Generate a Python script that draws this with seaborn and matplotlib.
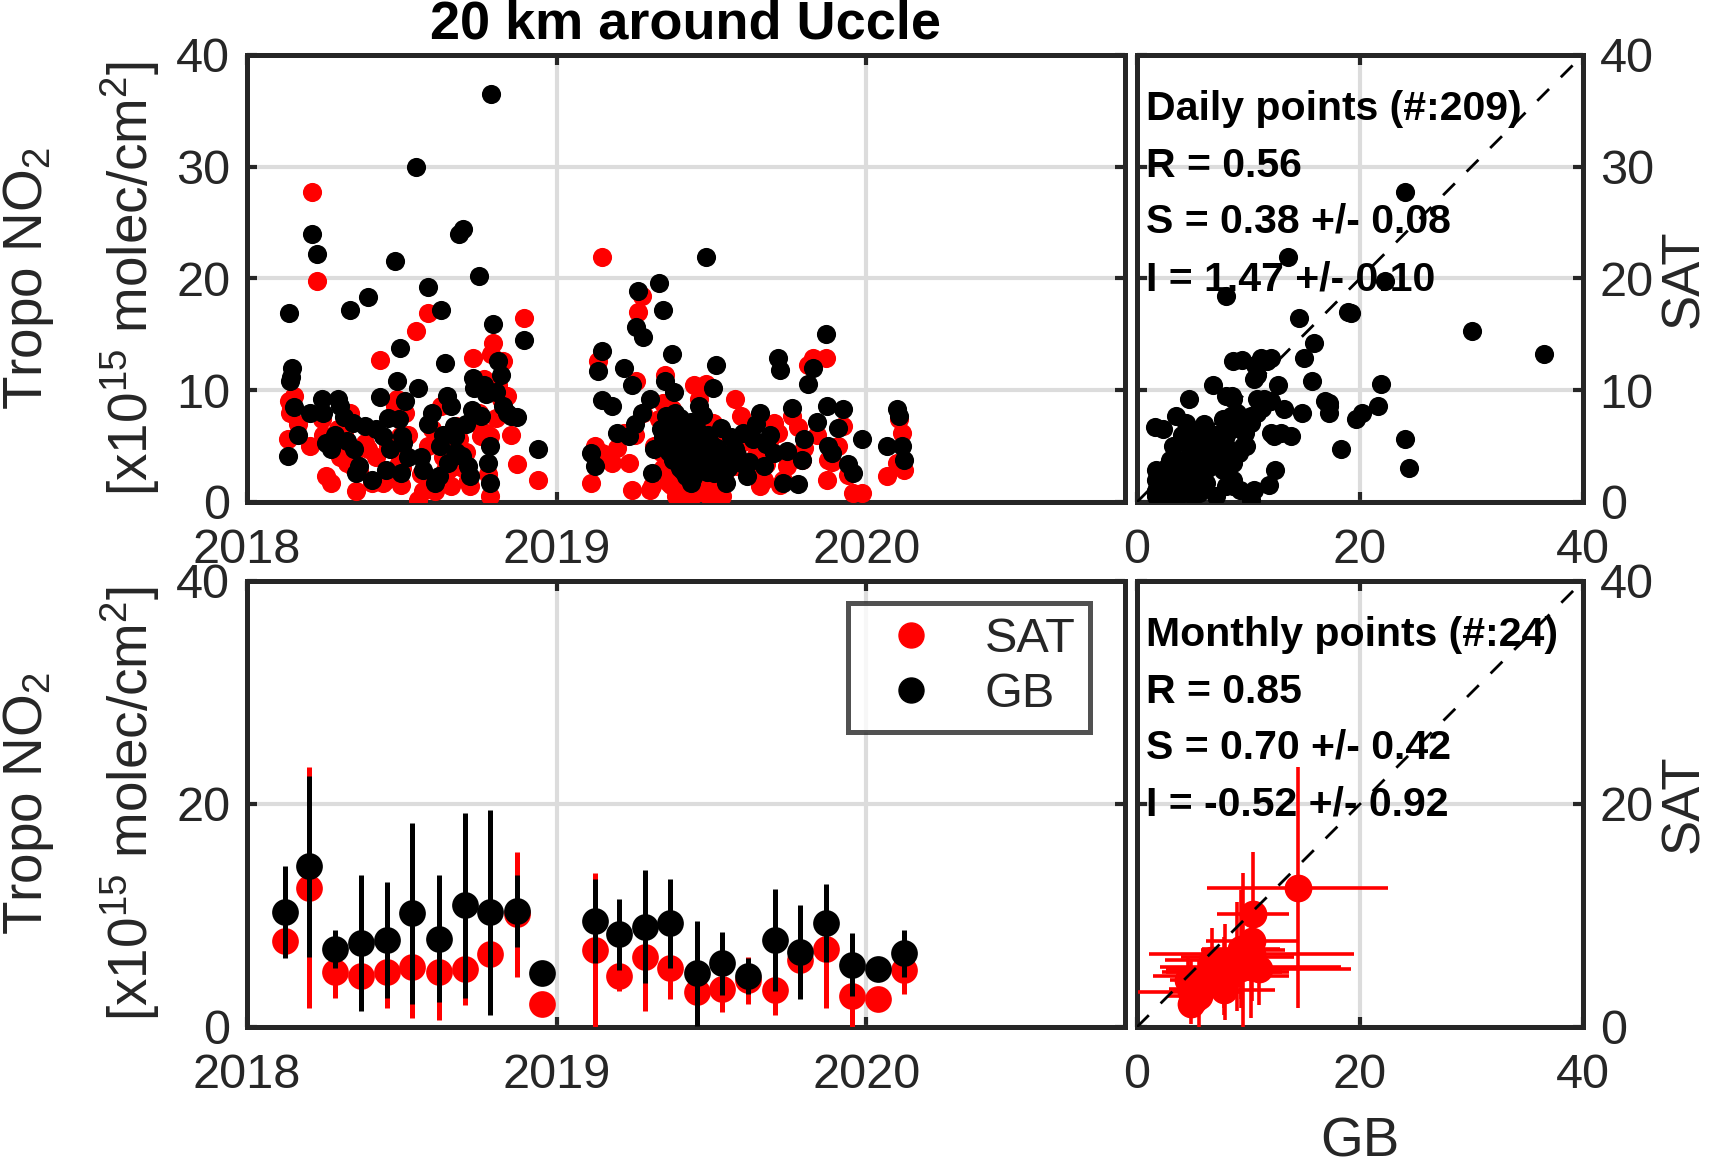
import numpy as np
import pandas as pd
import matplotlib
matplotlib.use('Agg')
import matplotlib.pyplot as plt
import matplotlib.dates as mdates
from matplotlib.lines import Line2D
import seaborn as sns

# Daily co-located NO2 columns [x1e15 molec/cm2], day number counted from 2018-01-01
day_num = [48, 50, 51, 52, 53, 56, 60, 74, 77, 83, 88, 90, 93, 99, 104, 107, 110, 115, 118, 122,
           125, 126, 128, 132, 139, 143, 147, 152, 157, 160, 164, 166, 169, 174, 177, 179, 181, 182, 183, 184,
           186, 190, 199, 202, 205, 208, 213, 214, 218, 222, 226, 228, 229, 231, 233, 236, 237, 240, 244, 245,
           247, 250, 254, 255, 258, 261, 263, 265, 267, 268, 273, 276, 279, 282, 284, 286, 287, 288, 290, 293,
           296, 300, 302, 306, 311, 318, 327, 343,
           405, 410, 414, 418, 419, 430, 436, 445, 450, 454, 458, 459, 461, 466, 467, 475, 477, 480, 486, 488,
           490, 491, 493, 494, 495, 497, 498, 500, 501, 502, 503, 504, 505, 506, 507, 508, 509, 510, 511, 512,
           513, 514, 515, 516, 517, 518, 519, 520, 521, 522, 523, 524, 525, 526, 527, 528, 530, 531, 532, 533,
           534, 535, 536, 538, 539, 541, 542, 543, 545, 546, 547, 549, 551, 553, 554, 556, 557, 559, 560, 562,
           565, 567, 571, 575, 578, 582, 585, 589, 592, 597, 600, 605, 609, 612, 617, 621, 626, 628, 632, 637,
           643, 650, 654, 657, 661, 667, 672, 682, 684, 685, 690, 697, 703, 709, 714, 725, 755, 766, 769, 772,
           774]
sat_daily = [5.6, 9.0, 8.0, 8.4, 9.0, 9.5, 7.0, 5.0, 27.7, 19.8, 7.4, 6.0, 2.3, 1.7, 5.5, 6.5, 4.0, 6.0, 3.5, 8.0,
             4.1, 3.0, 1.0, 2.8, 5.3, 4.7, 1.7, 4.0, 12.7, 1.7, 2.0, 5.0, 2.3, 8.6, 9.2, 3.5, 5.9, 1.5, 3.0, 4.5,
             8.0, 6.0, 15.3, 0.2, 2.5, 1.0, 5.0, 16.9, 6.5, 1.0, 2.0, 5.9, 8.6, 4.0, 2.9, 5.0, 2.9, 1.4, 5.6, 3.2,
             6.8, 5.6, 3.2, 3.0, 4.5, 2.0, 1.4, 7.2, 12.9, 7.7, 8.0, 5.9, 11.0, 6.2, 2.5, 0.5, 5.9, 13.2, 14.2, 7.5,
             10.5, 9.2, 12.6, 9.5, 6.0, 3.4, 16.5, 2.0,
             1.7, 5.0, 12.6, 21.9, 4.4, 3.5, 4.8, 6.2, 3.5, 1.1, 6.0, 10.8, 17.0, 18.4, 8.0, 1.1, 1.4, 5.0, 7.4, 4.5,
             8.9, 3.0, 11.4, 2.9, 4.2, 1.7, 2.0, 1.5, 8.3, 2.2, 5.0, 6.0, 3.8, 0.5, 1.0, 5.5, 0.8, 0.8, 4.0, 2.8,
             0.2, 0.5, 3.2, 1.2, 4.8, 2.6, 2.4, 1.8, 0.9, 2.6, 5.2, 1.0, 3.4, 0.6, 10.5, 4.2, 1.6, 3.0, 2.2, 9.2,
             1.3, 5.6, 0.9, 6.2, 2.9, 10.6, 1.9, 3.6, 0.5, 2.4, 1.6, 7.1, 3.0, 5.9, 4.4, 1.1, 1.4, 5.0, 0.5, 2.0,
             2.9, 3.8, 4.6, 9.2, 3.2, 7.7, 5.4, 6.5, 2.6, 3.5, 4.2, 1.4, 2.0, 3.4, 5.6, 7.1, 6.2, 1.5, 2.0, 3.2,
             7.7, 6.7, 3.8, 4.8, 12.3, 12.9, 6.0, 12.9, 2.0, 3.8, 3.6, 5.0, 6.8, 2.4, 0.8, 0.8, 2.3, 3.5, 7.4, 6.2,
             2.9]
gb_daily = [4.1, 16.9, 10.8, 11.2, 12.0, 8.5, 6.0, 8.0, 24.0, 22.2, 9.2, 8.0, 5.3, 4.7, 6.0, 9.2, 8.6, 7.6, 5.5, 17.2,
            7.1, 4.7, 2.6, 3.2, 6.8, 18.3, 2.0, 6.5, 9.4, 5.9, 2.9, 7.5, 4.7, 21.6, 10.8, 7.4, 13.8, 2.6, 5.9, 5.3,
            9.0, 4.0, 30.0, 10.2, 4.0, 2.9, 7.0, 19.2, 8.0, 1.7, 2.3, 5.0, 17.2, 6.0, 12.4, 9.5, 3.5, 8.6, 6.8, 5.9,
            4.5, 24.0, 4.1, 24.4, 7.0, 3.2, 2.3, 8.2, 11.1, 10.2, 20.2, 7.7, 10.5, 9.7, 3.5, 1.7, 5.0, 36.5, 15.9, 9.8,
            12.6, 11.4, 8.6, 8.0, 7.7, 7.6, 14.5, 4.7,
            4.4, 3.2, 11.7, 13.5, 9.1, 8.6, 6.2, 12.0, 5.9, 10.5, 7.0, 15.7, 18.9, 8.0, 14.8, 9.2, 2.6, 4.7, 19.6, 6.5,
            17.2, 5.8, 10.8, 7.7, 7.0, 6.2, 4.5, 6.0, 13.2, 3.8, 9.8, 8.0, 5.5, 7.1, 4.2, 6.8, 5.3, 3.0, 7.5, 4.8,
            3.5, 2.8, 5.2, 3.6, 6.2, 2.3, 4.0, 2.5, 5.0, 3.3, 7.2, 1.7, 4.4, 2.2, 6.8, 5.6, 3.0, 6.4, 4.6, 8.6,
            2.9, 5.4, 3.4, 7.8, 4.1, 21.9, 2.7, 6.0, 5.0, 3.9, 5.2, 10.2, 2.6, 12.3, 4.8, 3.5, 3.1, 6.6, 2.6, 4.3,
            1.7, 3.0, 5.8, 4.7, 4.2, 3.5, 6.2, 2.3, 3.6, 5.6, 7.0, 8.0, 3.2, 5.2, 6.0, 4.4, 12.9, 11.8, 1.7, 4.6,
            8.4, 1.6, 3.8, 5.6, 10.6, 12.0, 7.2, 15.0, 8.6, 5.0, 4.4, 6.6, 8.3, 3.4, 2.6, 5.6, 5.0, 8.3, 7.7, 5.0,
            3.8]

# Monthly means and standard deviations
months = ['2018-02', '2018-03', '2018-04', '2018-05', '2018-06', '2018-07', '2018-08', '2018-09',
          '2018-10', '2018-11', '2018-12', '2019-02', '2019-03', '2019-04', '2019-05', '2019-06',
          '2019-07', '2019-08', '2019-09', '2019-10', '2019-11', '2019-12', '2020-01', '2020-02']
sat_month = [7.7, 12.5, 4.9, 4.6, 4.9, 5.4, 4.9, 5.2, 6.5, 10.1, 2.1, 6.9,
             4.6, 6.3, 5.3, 3.1, 3.4, 4.2, 3.3, 6.0, 7.0, 2.8, 2.5, 5.1]
sat_month_std = [0.8, 10.8, 2.3, 1.7, 3.2, 4.6, 4.3, 3.2, 4.2, 5.6, 0.0, 6.9,
                 1.4, 4.9, 2.8, 2.8, 2.1, 2.1, 2.2, 2.9, 5.3, 3.3, 0.0, 2.1]
gb_month = [10.3, 14.4, 7.0, 7.5, 7.8, 10.2, 7.9, 10.9, 10.3, 10.4, 4.8, 9.5,
            8.3, 9.0, 9.3, 4.8, 5.7, 4.6, 7.8, 6.7, 9.3, 5.6, 5.2, 6.6]
gb_month_std = [4.1, 8.1, 1.7, 6.1, 5.2, 8.1, 5.7, 8.3, 9.2, 3.2, 0.0, 3.8,
                3.2, 5.1, 4.0, 4.7, 2.8, 1.6, 4.6, 4.2, 3.5, 2.8, 0.0, 2.1]

daily_stats = ['Daily points (#:209)', 'R = 0.56', 'S = 0.38 +/- 0.08', 'I = 1.47 +/- 0.10']
monthly_stats = ['Monthly points (#:24)', 'R = 0.85', 'S = 0.70 +/- 0.42', 'I = -0.52 +/- 0.92']

daily = pd.DataFrame({'date': pd.Timestamp('2018-01-01') + pd.to_timedelta(day_num, unit='D'),
                      'sat': sat_daily, 'gb': gb_daily})
monthly = pd.DataFrame({'date': pd.to_datetime(months) + pd.Timedelta(days=14),
                        'sat': sat_month, 'sat_std': sat_month_std,
                        'gb': gb_month, 'gb_std': gb_month_std})

sns.set_theme(style='ticks')
plt.rcParams['font.family'] = ['Liberation Sans', 'DejaVu Sans']
plt.rcParams['mathtext.fontset'] = 'custom'
plt.rcParams['mathtext.rm'] = 'Liberation Sans'
plt.rcParams['mathtext.it'] = 'Liberation Sans:italic'
plt.rcParams['mathtext.bf'] = 'Liberation Sans:bold'

EDGE = '#262626'
GRID = '#dcdcdc'
TICK_FS = 35
LABEL_FS = 39.5


def style_axes(ax, right_labels=False):
    for sp in ax.spines.values():
        sp.set_color(EDGE)
        sp.set_linewidth(3.6)
    ax.tick_params(direction='in', length=7, width=3, color=EDGE, labelcolor=EDGE,
                   labelsize=TICK_FS, top=True, right=True, bottom=True, left=True)
    ax.tick_params(axis='x', pad=19)
    ax.tick_params(axis='y', pad=12)
    if right_labels:
        ax.tick_params(labelleft=False, labelright=True)
        ax.yaxis.set_label_position('right')
    ax.grid(True, color=GRID, linewidth=3)
    ax.set_axisbelow(True)


fig = plt.figure(figsize=(17.22, 11.69), dpi=100)
ax_ts = fig.add_axes([0.1434, 0.5706, 0.5099, 0.3824])
ax_sc = fig.add_axes([0.6603, 0.5706, 0.2590, 0.3824])
ax_mts = fig.add_axes([0.1434, 0.1215, 0.5099, 0.3815])
ax_msc = fig.add_axes([0.6603, 0.1215, 0.2590, 0.3815])

ylab = 'Tropo NO$_2$\n[x10$^{15}$ molec/cm$^2$]'
t0, t1 = pd.Timestamp('2018-01-01'), pd.Timestamp('2020-11-01')

# daily time series
sns.scatterplot(data=daily, x='date', y='sat', ax=ax_ts, color='red', s=190, linewidth=0, zorder=3)
sns.scatterplot(data=daily, x='date', y='gb', ax=ax_ts, color='black', s=190, linewidth=0, zorder=4)
ax_ts.set_title('20 km around Uccle', fontsize=39, fontweight='bold', color='black', pad=12)

# daily scatter
sns.scatterplot(data=daily, x='gb', y='sat', ax=ax_sc, color='black', s=190, linewidth=0, zorder=3)

# monthly time series
ax_mts.errorbar(monthly['date'], monthly['sat'], yerr=monthly['sat_std'], fmt='none',
                ecolor='red', elinewidth=3.6, capsize=0, zorder=3)
sns.scatterplot(data=monthly, x='date', y='sat', ax=ax_mts, color='red', s=370, linewidth=0, zorder=3)
ax_mts.errorbar(monthly['date'], monthly['gb'], yerr=monthly['gb_std'], fmt='none',
                ecolor='black', elinewidth=3.6, capsize=0, zorder=4)
sns.scatterplot(data=monthly, x='date', y='gb', ax=ax_mts, color='black', s=370, linewidth=0, zorder=4)

# monthly scatter
ax_msc.errorbar(monthly['gb'], monthly['sat'], xerr=monthly['gb_std'], yerr=monthly['sat_std'],
                fmt='none', ecolor='red', elinewidth=2.6, capsize=0, zorder=3)
sns.scatterplot(data=monthly, x='gb', y='sat', ax=ax_msc, color='red', s=400, linewidth=0, zorder=3)

for ax, yt in [(ax_ts, [0, 10, 20, 30, 40]), (ax_mts, [0, 20, 40])]:
    style_axes(ax)
    ax.set_xlim(t0, t1)
    ax.set_ylim(0, 40)
    ax.set_yticks(yt)
    ax.xaxis.set_major_locator(mdates.YearLocator())
    ax.xaxis.set_major_formatter(mdates.DateFormatter('%Y'))
    ax.set_xlabel('')
    ax.set_ylabel(ylab, fontsize=LABEL_FS, color=EDGE, labelpad=10, linespacing=1.85)

for ax, yt, stats in [(ax_sc, [0, 10, 20, 30, 40], daily_stats), (ax_msc, [0, 20, 40], monthly_stats)]:
    style_axes(ax, right_labels=True)
    ax.set_xlim(0, 40)
    ax.set_ylim(0, 40)
    ax.set_xticks([0, 20, 40])
    ax.set_yticks(yt)
    ax.set_xlabel('')
    ax.set_ylabel('SAT', fontsize=38, color=EDGE, labelpad=4)
    ax.plot([0, 40], [0, 40], color='black', lw=2, dashes=(6, 6), zorder=10)
    for yf, s in zip([0.855, 0.727, 0.602, 0.474], stats):
        ax.text(0.02, yf, s, transform=ax.transAxes, fontsize=29.5, fontweight='bold',
                va='baseline', ha='left', color='black', zorder=9)

ax_msc.set_xlabel('GB', fontsize=LABEL_FS, color=EDGE, labelpad=13)

handles = [Line2D([], [], ls='none', marker='o', ms=18, color='red', label='SAT'),
           Line2D([], [], ls='none', marker='o', ms=18, color='black', label='GB')]
leg = ax_mts.legend(handles=handles, loc='upper right', bbox_to_anchor=(0.960, 0.951),
                    fontsize=TICK_FS, frameon=True, fancybox=False, borderpad=0.3, labelspacing=0.2,
                    handlelength=2.0, handletextpad=0.5, borderaxespad=0)
leg.get_frame().set_edgecolor(EDGE)
leg.get_frame().set_linewidth(3.6)
for t in leg.get_texts():
    t.set_color(EDGE)

fig.savefig('out.png', dpi=100)
